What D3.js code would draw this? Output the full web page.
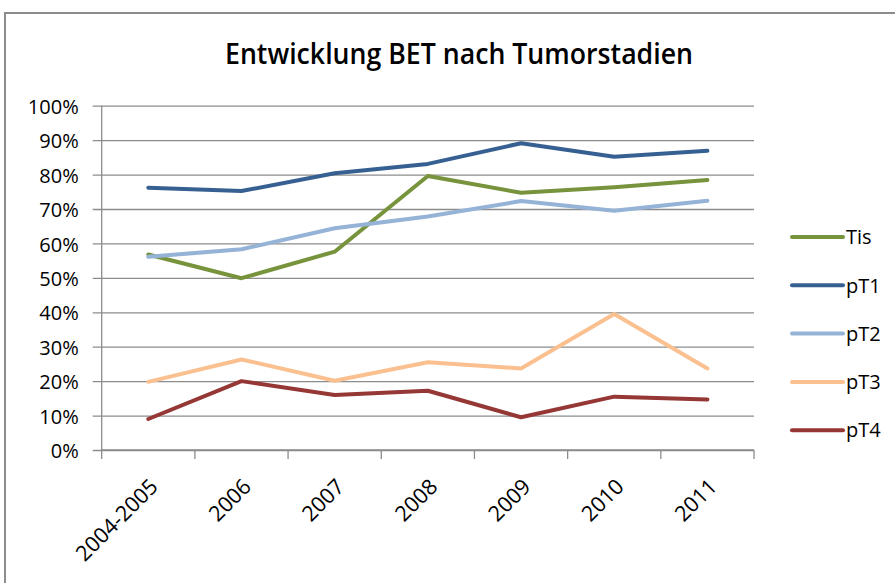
<!DOCTYPE html>
<html>
<head>
<meta charset="utf-8">
<script src="https://cdn.jsdelivr.net/npm/d3@7"></script>
<style>
  body { margin: 0; background: #fff; }
  text { font-family: "Open Sans", sans-serif; fill: #000; }
</style>
</head>
<body>
<div id="chart"></div>
<script>
// Daten
const jahre = ['2004-2005', '2006', '2007', '2008', '2009', '2010', '2011'];
const tis = [56.8, 49.9, 57.6, 79.6, 74.7, 76.3, 78.4];
const pT1 = [76.2, 75.2, 80.4, 83.1, 89.1, 85.2, 86.9];
const pT2 = [56.1, 58.3, 64.4, 67.8, 72.3, 69.5, 72.4];
const pT3 = [19.8, 26.3, 20.1, 25.5, 23.7, 39.5, 23.7];
const pT4 = [9.0, 20.0, 16.0, 17.2, 9.5, 15.5, 14.7];
const yTicks = [0, 10, 20, 30, 40, 50, 60, 70, 80, 90, 100];

const serien = [
    { name: 'Tis', werte: tis, farbe: '#77933C' },
    { name: 'pT1', werte: pT1, farbe: '#376092' },
    { name: 'pT2', werte: pT2, farbe: '#95B3D7' },
    { name: 'pT3', werte: pT3, farbe: '#FAC090' },
    { name: 'pT4', werte: pT4, farbe: '#953735' }
];

const breite = 895, hoehe = 583;
const plot = { links: 101.7, rechts: 754, oben: 105.7, unten: 450 };

const svg = d3.select('#chart').append('svg')
    .attr('width', breite)
    .attr('height', hoehe);

// Rahmen
svg.append('rect')
    .attr('x', 5).attr('y', 13)
    .attr('width', 1000).attr('height', 1000)
    .attr('fill', 'none')
    .attr('stroke', '#8c8c8c')
    .attr('stroke-width', 2);

// Titel
svg.append('text')
    .attr('x', 459).attr('y', 64)
    .attr('text-anchor', 'middle')
    .attr('font-size', '28px')
    .attr('font-weight', 600)
    .attr('textLength', 468)
    .attr('lengthAdjust', 'spacingAndGlyphs')
    .text('Entwicklung BET nach Tumorstadien');

const x = d3.scaleBand().domain(jahre).range([plot.links, plot.rechts]);
const y = d3.scaleLinear().domain([0, 100]).range([plot.unten, plot.oben]);

// Gitterlinien + y-Achse
const yAchse = svg.append('g')
    .attr('transform', `translate(${plot.links},0)`)
    .call(d3.axisLeft(y)
        .tickValues(yTicks)
        .tickSize(-(plot.rechts - plot.links))
        .tickFormat(d => d + '%'));
yAchse.select('.domain').remove();
yAchse.selectAll('.tick line')
    .attr('x1', -9)
    .attr('stroke', '#8c8c8c')
    .attr('stroke-width', 1.3);
yAchse.selectAll('.tick text')
    .attr('x', -23)
    .attr('dy', '0.38em')
    .attr('font-size', '20px')
    .attr('fill', '#000');

svg.append('line')
    .attr('x1', plot.links).attr('x2', plot.links)
    .attr('y1', plot.oben).attr('y2', plot.unten)
    .attr('stroke', '#8c8c8c').attr('stroke-width', 1.3);

// x-Achse
const xAchse = svg.append('g')
    .attr('transform', `translate(0,${plot.unten})`);
xAchse.append('line')
    .attr('x1', plot.links).attr('x2', plot.rechts)
    .attr('stroke', '#8c8c8c').attr('stroke-width', 1.3);
const grenzen = jahre.map(j => x(j)).concat([plot.rechts]);
xAchse.selectAll('line.tick')
    .data(grenzen)
    .enter().append('line')
    .attr('class', 'tick')
    .attr('x1', d => d).attr('x2', d => d)
    .attr('y1', 0).attr('y2', 9)
    .attr('stroke', '#8c8c8c').attr('stroke-width', 1.3);
xAchse.selectAll('text')
    .data(jahre)
    .enter().append('text')
    .attr('transform', d => `translate(${x(d) + x.bandwidth() / 2 + 11},38) rotate(-45)`)
    .attr('text-anchor', 'end')
    .attr('font-size', '21.5px')
    .text(d => d);

// Linien
const linie = d3.line()
    .x((d, i) => x(jahre[i]) + x.bandwidth() / 2)
    .y(d => y(d));

svg.append('g').selectAll('path')
    .data(serien)
    .enter().append('path')
    .attr('d', d => linie(d.werte))
    .attr('fill', 'none')
    .attr('stroke', d => d.farbe)
    .attr('stroke-width', 4)
    .attr('stroke-linecap', 'round')
    .attr('stroke-linejoin', 'round');

// Legende
const legende = svg.append('g').selectAll('g')
    .data(serien)
    .enter().append('g')
    .attr('transform', (_, i) => `translate(792, ${237 + i * 48.3})`);
legende.append('line')
    .attr('x1', 0).attr('x2', 51)
    .attr('stroke', d => d.farbe)
    .attr('stroke-width', 4)
    .attr('stroke-linecap', 'round');
legende.append('text')
    .attr('x', 54)
    .attr('dy', '0.36em')
    .attr('font-size', '20px')
    .text(d => d.name);
</script>
</body>
</html>
